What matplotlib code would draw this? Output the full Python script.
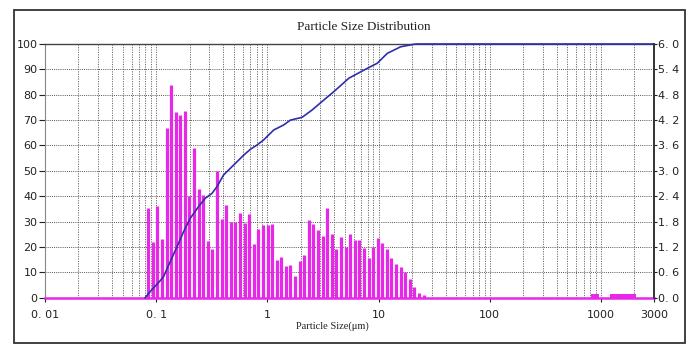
"""
Particle Size Distribution - laser diffraction result
differential (bars) + cumulative (line), log x axis
"""

import matplotlib
matplotlib.use('Agg')
import matplotlib.pyplot as plt
import matplotlib.ticker as ticker
from matplotlib.patches import Rectangle

# --- data ---
# size classes (um) and differential amount (plotted on the 0-100 scale)
bin_size = [0.0847, 0.0931, 0.1024, 0.1127, 0.1239, 0.1363, 0.1499, 0.1648, 0.1813, 0.1993,
            0.2192, 0.2411, 0.2651, 0.2916, 0.3206, 0.3526, 0.3878, 0.4265, 0.4690, 0.5157,
            0.5672, 0.6237, 0.6859, 0.7543, 0.8295, 0.9122, 1.003, 1.103, 1.213, 1.334,
            1.467, 1.614, 1.775, 1.952, 2.146, 2.360, 2.596, 2.855, 3.139, 3.452,
            3.797, 4.175, 4.592, 5.050, 5.553, 6.107, 6.716, 7.385, 8.122, 8.932,
            9.822, 10.80, 11.88, 13.06, 14.37, 15.80, 17.38, 19.11, 21.01, 23.11,
            25.41]
bin_value = [35.5, 22, 36, 23, 67, 84, 73, 72, 73.5, 40,
             59, 43, 40.5, 22.5, 19, 50, 31, 36.5, 30, 30,
             33.5, 29.5, 33, 21, 27, 28.5, 28.5, 29, 15, 16,
             12.5, 13, 8.5, 14.5, 17, 30.5, 29, 26.5, 24.5, 35.5,
             25, 19, 24, 20, 25, 22.7, 22.7, 19.5, 15.7, 19.8,
             23.7, 21.5, 19.3, 15.8, 13.2, 12, 10.3, 7.4, 4.2, 1.8,
             0.9]

# small residual classes near 1 mm
tail_lo = [820, 1210]
tail_hi = [970, 2070]
tail_value = [1.3, 1.3]

# cumulative curve (%)
cum_size = [0.0796, 0.0883, 0.1087, 0.1164, 0.1337, 0.1536, 0.1763, 0.2025, 0.2404, 0.2762,
            0.3174, 0.3523, 0.4040, 0.4642, 0.5333, 0.6123, 0.7035, 0.8077, 0.9263, 1.14,
            1.403, 1.61, 2.054, 2.527, 3.215, 3.956, 5.40, 7.37, 9.72, 11.97,
            15.78, 20.8, 22.3, 3000]
cum_pct = [0, 2.4, 6.7, 8.3, 14.2, 20, 26, 31.3, 35.9, 39.2,
           41.1, 43.8, 48.4, 51, 53.6, 56.2, 58.5, 60.2, 62.2, 66.1,
           68.1, 70, 71.1, 74, 77.9, 81.2, 86.5, 89.7, 92.4, 96.3,
           98.9, 99.9, 100, 100]

x_ticks = [0.01, 0.1, 1, 10, 100, 1000, 3000]
x_ticklabels = ['0. 01', '0. 1', '1', '10', '100', '1000', '3000']
left_ticks = [0, 10, 20, 30, 40, 50, 60, 70, 80, 90, 100]
right_ticks = [0.0, 0.6, 1.2, 1.8, 2.4, 3.0, 3.6, 4.2, 4.8, 5.4, 6.0]
right_ticklabels = ['0. 0', '0. 6', '1. 2', '1. 8', '2. 4', '3. 0', '3. 6', '4. 2', '4. 8', '5. 4', '6. 0']

COLOR_BAR = '#e828e8'
COLOR_CUM = '#2e2eaa'
TICK_FONT = 'DejaVu Sans'
SERIF = ['Liberation Serif', 'DejaVu Serif']

fig = plt.figure(figsize=(7.0, 3.52), dpi=100)
ax = fig.add_axes([45 / 700, 54.3 / 352, 609 / 700, 253.7 / 352])

# outer frame around the whole chart
fig.patches.append(Rectangle((14 / 700, 9 / 352), 671 / 700, 333 / 352,
                             transform=fig.transFigure, fill=False,
                             edgecolor='#333333', linewidth=1.3))

ax.set_xscale('log')
ax.set_xlim(0.01, 3000)
ax.set_ylim(0, 100)

# grid: dotted, minor log lines included
ax.xaxis.set_minor_locator(ticker.LogLocator(base=10, subs=range(2, 10), numticks=20))
ax.grid(True, which='both', axis='x', color='#6e6e6e', linestyle=(0, (1.2, 1.3)), linewidth=0.7)
ax.grid(True, which='major', axis='y', color='#555555', linestyle=(0, (1, 1.2)), linewidth=0.7)
ax.set_axisbelow(True)

# bars
ax.vlines(bin_size, 0, bin_value, colors=COLOR_BAR, linewidth=2.3, zorder=3)
ax.bar(tail_lo, tail_value, width=[h - l for l, h in zip(tail_lo, tail_hi)],
       align='edge', color=COLOR_BAR, zorder=3)
ax.plot([0.01, 3000], [0, 0], color=COLOR_BAR, linewidth=1.8, clip_on=False, zorder=3)

# cumulative line
ax.plot(cum_size, cum_pct, color=COLOR_CUM, linewidth=1.2, clip_on=False, zorder=4)

# axes / ticks
ax.set_xticks(x_ticks)
ax.set_xticklabels(x_ticklabels)
ax.xaxis.set_minor_formatter(ticker.NullFormatter())
ax.set_yticks(left_ticks)
ax.tick_params(axis='x', which='major', length=3, width=0.8, pad=6, labelsize=8, colors='#222222')
ax.tick_params(axis='x', which='minor', length=0)
ax.tick_params(axis='y', length=4, width=0.8, pad=1.5, labelsize=8, colors='#222222')
for lab in ax.get_xticklabels() + ax.get_yticklabels():
    lab.set_family(TICK_FONT)

ax.spines['bottom'].set_visible(False)
ax.spines['left'].set_color('#888888')
ax.spines['left'].set_linewidth(0.8)
ax.spines['top'].set_color('#444444')
ax.spines['top'].set_linewidth(1.0)
ax.spines['right'].set_color('#333333')
ax.spines['right'].set_linewidth(1.2)

ax2 = ax.twinx()
ax2.set_ylim(0, 6.0)
ax2.set_yticks(right_ticks)
ax2.set_yticklabels(right_ticklabels)
ax2.tick_params(axis='y', length=2, width=0.8, pad=1, labelsize=8, colors='#222222')
for lab in ax2.get_yticklabels():
    lab.set_family(TICK_FONT)
for s in ['top', 'left', 'bottom']:
    ax2.spines[s].set_visible(False)
ax2.spines['right'].set_color('#333333')
ax2.spines['right'].set_linewidth(1.2)

# titles
fig.text(364 / 700, 1 - 27 / 352, 'Particle Size Distribution', family=SERIF,
         fontsize=9.5, ha='center', va='center', color='#222222')
fig.text(332 / 700, 1 - 326 / 352, 'Particle Size(\u03bcm)', family=SERIF,
         fontsize=7.5, ha='center', va='center', color='#222222')

plt.savefig('out.png', dpi=100)
plt.close()
